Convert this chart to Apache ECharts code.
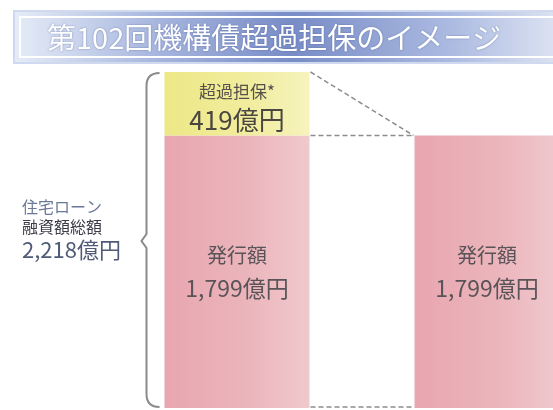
<!DOCTYPE html>
<html>
<head>
<meta charset="utf-8">
<script src="https://cdn.jsdelivr.net/npm/echarts@6/dist/echarts.min.js"></script>
<style>
  html, body { margin: 0; padding: 0; background: #fff; }
  #main { width: 553px; height: 410px; }
</style>
</head>
<body>
<div id="main"></div>
<script>
// データ
const categories = ['住宅ローン融資額総額', '機構債'];
const issueValues = [1799, 1799];     // 発行額
const overValues = [419, '-'];         // 超過担保
const totalValue = 2218;               // 住宅ローン融資額総額
const titleText = '第102回機構債超過担保のイメージ';

const fmt = function (v) { return v.toLocaleString('en-US'); };
const FONT = '"Noto Sans CJK JP", sans-serif';
const BAR_RATIO = 0.58;

const pinkGrad = new echarts.graphic.LinearGradient(0, 0, 1, 0, [
  { offset: 0, color: '#e8a6b0' },
  { offset: 0.55, color: '#ebb4bb' },
  { offset: 1, color: '#f0c9cd' }
]);
const yellowGrad = new echarts.graphic.LinearGradient(0, 0, 1, 0, [
  { offset: 0, color: '#ede886' },
  { offset: 0.6, color: '#f1eda0' },
  { offset: 1, color: '#f6f3bd' }
]);

// 破線と括弧（軸の座標から計算）
function renderGuides(params, api) {
  const pTop = api.coord([0, api.value(1)]);
  const pIssue = api.coord([0, api.value(2)]);
  const pZero = api.coord([0, 0]);
  const pRight = api.coord([1, 0]);
  const band = pRight[0] - pTop[0];
  const half = band * BAR_RATIO / 2;
  const L = pTop[0] + half + 1;
  const R = pRight[0] - half - 1;
  const dash = { stroke: '#8c8c8c', lineWidth: 1.5, lineDash: [5, 3], fill: null };
  const brace = { stroke: '#8a8a8a', lineWidth: 2, fill: null };
  const bx = pTop[0] - half - 18;
  const bTop = pTop[1] + 1;
  const bBot = pZero[1] - 1;
  const mid = (bTop + bBot) / 2 + 1;
  return {
    type: 'group',
    children: [
      { type: 'line', shape: { x1: L, y1: pTop[1], x2: R, y2: pIssue[1] }, style: dash },
      { type: 'line', shape: { x1: L, y1: pIssue[1], x2: R, y2: pIssue[1] }, style: dash },
      { type: 'line', shape: { x1: L, y1: pZero[1] - 1, x2: R, y2: pZero[1] - 1 }, style: dash },
      { type: 'bezierCurve', shape: { x1: bx + 13, y1: bTop, cpx1: bx, cpy1: bTop, x2: bx, y2: bTop + 13 }, style: brace },
      { type: 'polyline', shape: { points: [[bx, bTop + 13], [bx, mid - 7], [bx - 5, mid], [bx, mid + 7], [bx, bBot - 13]] }, style: brace },
      { type: 'bezierCurve', shape: { x1: bx, y1: bBot - 13, cpx1: bx, cpy1: bBot, x2: bx + 13, y2: bBot }, style: brace }
    ]
  };
}

const chart = echarts.init(document.getElementById('main'));
const option = {
  animation: false,
  grid: { left: 237, right: 66, top: 72, bottom: 2 },
  xAxis: {
    type: 'category',
    data: categories,
    boundaryGap: false,
    show: false
  },
  yAxis: {
    type: 'value',
    min: 0,
    max: totalValue,
    show: false
  },
  graphic: [
    {
      type: 'rect',
      shape: { x: 14, y: 11, width: 580, height: 52 },
      style: {
        fill: new echarts.graphic.LinearGradient(0, 0, 1, 0, [
          { offset: 0, color: '#e6ecf7' },
          { offset: 0.25, color: '#a6b5de' },
          { offset: 0.48, color: '#788cc6' },
          { offset: 0.75, color: '#abbae1' },
          { offset: 1, color: '#eef1f8' }
        ]),
        stroke: '#cfd9ef',
        lineWidth: 2
      }
    },
    {
      type: 'rect',
      shape: { x: 20, y: 17, width: 570, height: 40 },
      style: { fill: null, stroke: '#ffffff', lineWidth: 2 }
    },
    {
      type: 'text',
      x: 47,
      y: 38,
      style: {
        text: titleText,
        font: '29px ' + FONT,
        fill: '#ffffff',
        textVerticalAlign: 'middle',
        textShadowColor: 'rgba(60,80,140,0.6)',
        textShadowBlur: 2
      }
    },
    {
      type: 'text',
      x: 22,
      y: 197,
      style: {
        text: '{a|住宅ローン}\n{b|融資額総額}\n{c|' + fmt(totalValue) + '億円}',
        fill: '#4a5570',
        rich: {
          a: { font: '16px ' + FONT, fill: '#6a7899', lineHeight: 20 },
          b: { font: '16px ' + FONT, fill: '#3c3c48', lineHeight: 20 },
          c: { font: '22px ' + FONT, fill: '#505a78', lineHeight: 26 }
        }
      }
    }
  ],
  series: [
    {
      name: '発行額',
      type: 'bar',
      stack: 'total',
      clip: false,
      barWidth: (BAR_RATIO * 100) + '%',
      data: issueValues,
      itemStyle: { color: pinkGrad },
      label: {
        show: true,
        position: 'inside',
        formatter: function (p) { return '{a|発行額}\n{b|' + fmt(p.value) + '億円}'; },
        rich: {
          a: { fontFamily: FONT, fontSize: 20, color: '#5a5458', lineHeight: 34 },
          b: { fontFamily: FONT, fontSize: 23, color: '#5a5458', lineHeight: 32 }
        }
      }
    },
    {
      name: '超過担保',
      type: 'bar',
      stack: 'total',
      clip: false,
      barWidth: (BAR_RATIO * 100) + '%',
      data: overValues,
      itemStyle: { color: yellowGrad },
      label: {
        show: true,
        position: 'inside',
        offset: [0, 3],
        formatter: function (p) { return '{a|超過担保*}\n{b|' + fmt(p.value) + '億円}'; },
        rich: {
          a: { fontFamily: FONT, fontSize: 17, color: '#55504a', lineHeight: 26 },
          b: { fontFamily: FONT, fontSize: 26, color: '#4a4640', lineHeight: 30 }
        }
      }
    },
    {
      type: 'custom',
      renderItem: renderGuides,
      data: [[0, totalValue, issueValues[0]]],
      silent: true,
      z: 5
    }
  ]
};
chart.setOption(option);
</script>
</body>
</html>
